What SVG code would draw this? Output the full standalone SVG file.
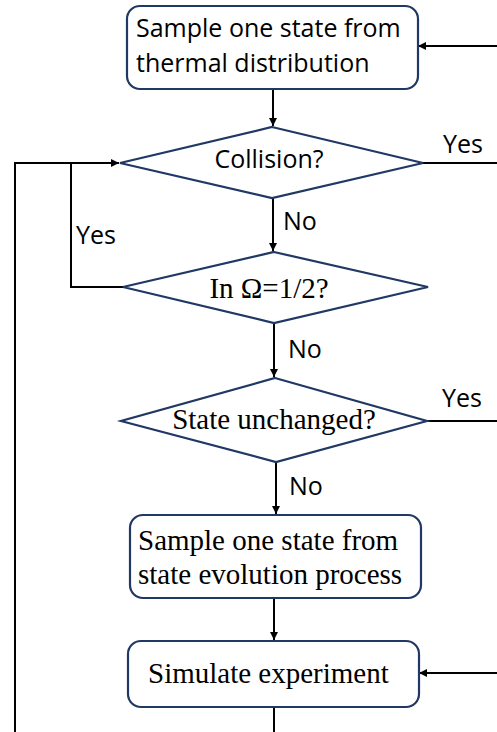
<svg xmlns="http://www.w3.org/2000/svg" width="497" height="732" viewBox="0 0 497 732">
<style>
.box{fill:#fff;stroke:#203864;stroke-width:2.2}
.dia{fill:#fff;stroke:#203864;stroke-width:2.2}
.ln{fill:none;stroke:#000;stroke-width:2}
.sans{font-family:"Open Sans","Noto Sans",sans-serif;font-size:25px;fill:#000}
.serif{font-family:"Liberation Serif","Times New Roman",serif;font-size:29px;fill:#000}
</style>
<defs>
<marker id="ah" viewBox="0 0 10 10" refX="10" refY="5" markerWidth="9" markerHeight="8" markerUnits="userSpaceOnUse" orient="auto">
<path d="M0,0 L10,5 L0,10 z" fill="#000"/>
</marker>
</defs>
<rect width="497" height="732" fill="#fff"/>
<g id="connectors">
<line class="ln" x1="497" y1="46" x2="418" y2="46" marker-end="url(#ah)"/>
<line class="ln" x1="273" y1="89" x2="273" y2="126" marker-end="url(#ah)"/>
<polyline class="ln" points="423,163 497,163"/>
<line class="ln" x1="273" y1="198" x2="273" y2="251" marker-end="url(#ah)"/>
<polyline class="ln" points="15,732 15,163 119,163" marker-end="url(#ah)"/>
<polyline class="ln" points="123,287 71,287 71,163"/>
<line class="ln" x1="274" y1="323" x2="274" y2="377" marker-end="url(#ah)"/>
<polyline class="ln" points="427,421 497,421"/>
<line class="ln" x1="276" y1="462" x2="276" y2="514" marker-end="url(#ah)"/>
<line class="ln" x1="274" y1="598" x2="274" y2="640" marker-end="url(#ah)"/>
<line class="ln" x1="497" y1="673" x2="419" y2="673" marker-end="url(#ah)"/>
<line class="ln" x1="274" y1="707" x2="274" y2="732"/>
<text class="sans" x="443" y="153">Yes</text>
<text class="sans" x="76" y="244">Yes</text>
<text class="sans" x="283" y="230">No</text>
<text class="sans" x="288" y="358">No</text>
<text class="sans" x="442" y="407">Yes</text>
<text class="sans" x="289" y="495">No</text>
</g>
<g id="sample-thermal">
<rect class="box" x="127" y="6" width="291" height="83" rx="13"/>
<text class="sans" x="136" y="37">Sample one state from</text>
<text class="sans" x="136" y="72">thermal distribution</text>
</g>
<g id="collision">
<polygon class="dia" points="272,127 423,163 272,198 120,163"/>
<text class="sans" x="269" y="168" text-anchor="middle">Collision?</text>
</g>
<g id="in-omega">
<polygon class="dia" points="274,252 428,287 274,323 123,287"/>
<text class="serif" x="269" y="298" text-anchor="middle">In Ω=1/2?</text>
</g>
<g id="state-unchanged">
<polygon class="dia" points="275,378 427,421 276,462 121,421"/>
<text class="serif" x="274" y="429" text-anchor="middle">State unchanged?</text>
</g>
<g id="sample-evolution">
<rect class="box" x="130" y="515" width="291" height="83" rx="13"/>
<text class="serif" x="138" y="550">Sample one state from</text>
<text class="serif" x="138" y="584">state evolution process</text>
</g>
<g id="simulate">
<rect class="box" x="128" y="641" width="291" height="66" rx="13"/>
<text class="serif" x="148" y="683">Simulate experiment</text>
</g>
</svg>
